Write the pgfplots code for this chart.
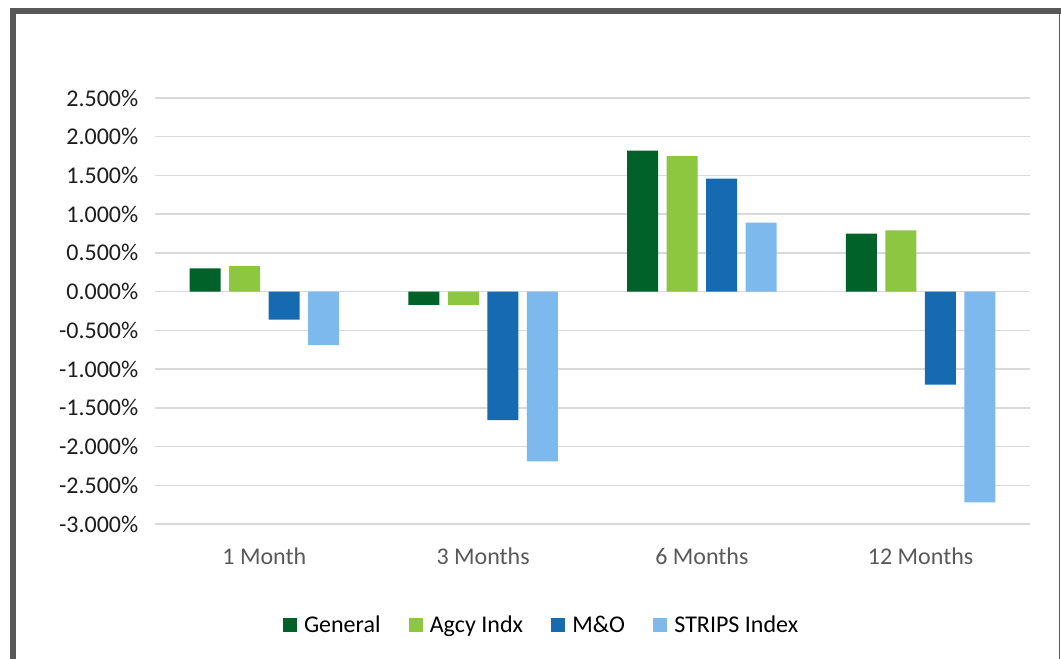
\documentclass[border=0pt]{standalone}
\usepackage{pgfplots}
\pgfplotsset{compat=1.18}
\usepackage{fontspec}
\setmainfont{Carlito}
\definecolor{cGen}{RGB}{0,98,40}
\definecolor{cAgcy}{RGB}{141,198,63}
\definecolor{cMO}{RGB}{21,106,176}
\definecolor{cStr}{RGB}{126,185,238}
\definecolor{gridc}{RGB}{217,217,217}
\definecolor{framec}{RGB}{89,89,89}
\definecolor{xlab}{RGB}{89,89,89}
\definecolor{ylab}{RGB}{30,30,30}
\begin{document}
\begin{tikzpicture}
\useasboundingbox (0pt,0pt) rectangle (795.75pt,493.5pt);
\clip (0pt,0pt) rectangle (795.75pt,493.5pt);
\fill[white] (0pt,0pt) rectangle (795.75pt,493.5pt);
\draw[framec,line width=4.5pt] (9.75pt,-20pt) -- (9.75pt,485.25pt) -- (810pt,485.25pt);
\draw[framec,line width=1.2pt] (794.6pt,485.25pt) -- (794.6pt,-20pt);
\begin{axis}[
  at={(116.25pt,100.5pt)}, anchor=south west,
  scale only axis, width=656.25pt, height=319.5pt,
  xmin=-0.5, xmax=3.5, ymin=-3, ymax=2.5,
  ybar=6.375pt, bar width=23.25pt,
  axis line style={draw=none},
  major tick length=0pt,
  ymajorgrids, grid style={gridc,line width=1.1pt},
  xtick={0,1,2,3},
  xticklabels={1 Month,3 Months,6 Months,12 Months},
  ytick={-3,-2.5,-2,-1.5,-1,-0.5,0,0.5,1,1.5,2,2.5},
  yticklabels={-3.000\%,-2.500\%,-2.000\%,-1.500\%,-1.000\%,-0.500\%,0.000\%,0.500\%,1.000\%,1.500\%,2.000\%,2.500\%},
  ticklabel style={font=\fontsize{18}{21}\selectfont},
  xticklabel style={text=xlab, yshift=-14pt},
  yticklabel style={text=ylab, xshift=-9pt},
  legend columns=4,
  legend style={draw=none, fill=none, at={(0.442,-0.237)}, anchor=center,
    font=\fontsize{18}{21}\selectfont, text=black,
    /tikz/every even column/.append style={column sep=19pt}},
  legend cell align=left,
  legend image code/.code={\fill[#1] (0pt,-5.25pt) rectangle (10.5pt,5.25pt); \path (14pt,0pt);},
  clip=false,
]
\addplot[fill=cGen, draw=none] coordinates {(0,0.30) (1,-0.17) (2,1.82) (3,0.75)};
\addplot[fill=cAgcy, draw=none] coordinates {(0,0.33) (1,-0.17) (2,1.75) (3,0.79)};
\addplot[fill=cMO, draw=none] coordinates {(0,-0.36) (1,-1.66) (2,1.46) (3,-1.20)};
\addplot[fill=cStr, draw=none] coordinates {(0,-0.69) (1,-2.19) (2,0.89) (3,-2.72)};
\legend{General,Agcy Indx,M\&O,STRIPS Index}
\end{axis}
\end{tikzpicture}
\end{document}
